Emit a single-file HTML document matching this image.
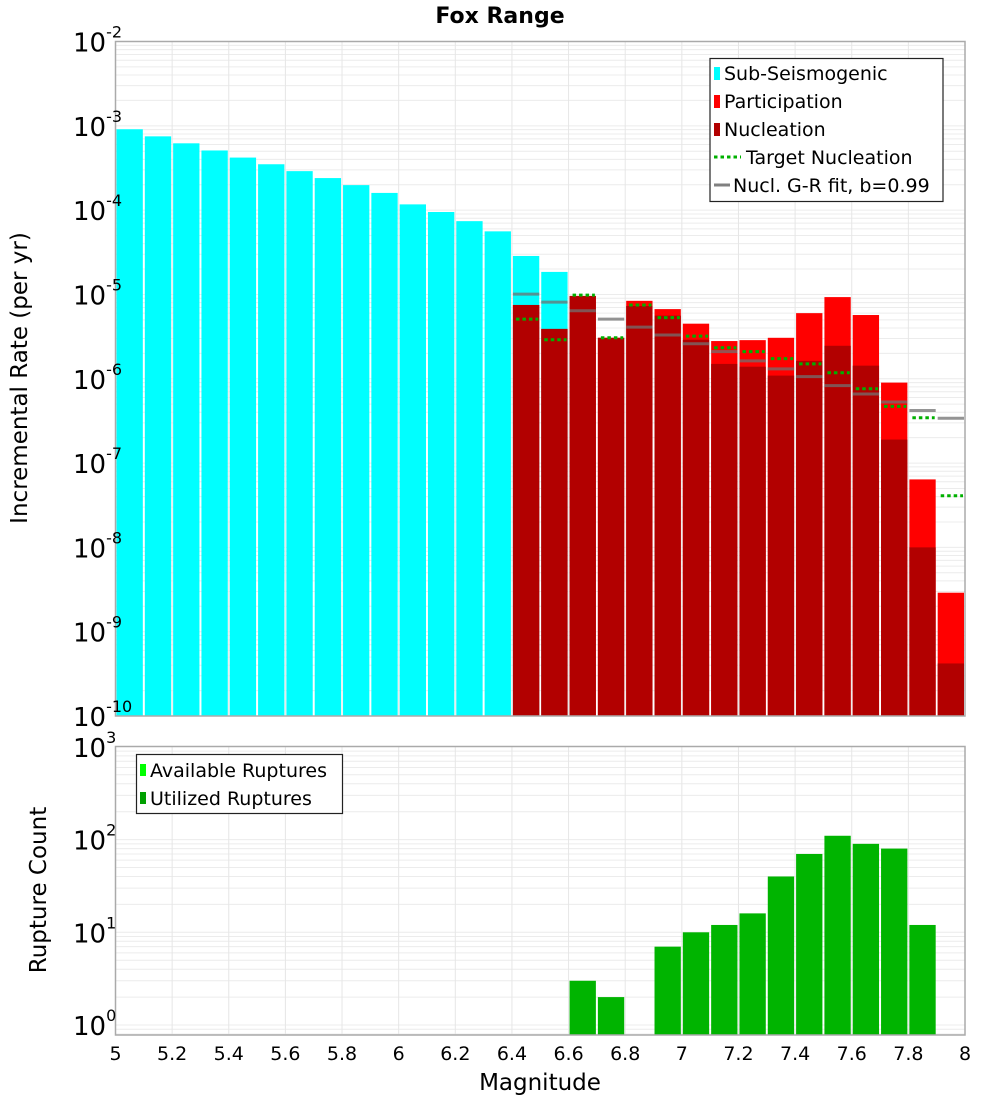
<!DOCTYPE html>
<html><head><meta charset="utf-8"><style>
body{margin:0;background:#fff;}
svg{display:block;font-family:"Liberation Sans","DejaVu Sans",sans-serif;}
</style></head><body>
<svg id="chart" width="1000" height="1100" viewBox="0 0 1000 1100" xmlns="http://www.w3.org/2000/svg">
<text x="500" y="23" text-anchor="middle" font-size="22" font-weight="bold" font-family="DejaVu Sans, sans-serif">Fox Range</text>
<g id="top-panel"></g>
<g id="bot-panel"></g>
<text transform="translate(27,378) rotate(-90)" text-anchor="middle" font-size="23" font-family="DejaVu Sans, sans-serif">Incremental Rate (per yr)</text>
<text transform="translate(46,890) rotate(-90)" text-anchor="middle" font-size="23" font-family="DejaVu Sans, sans-serif">Rupture Count</text>
<text x="540" y="1090" text-anchor="middle" font-size="23" font-family="DejaVu Sans, sans-serif">Magnitude</text>
</svg>
<script>
const subMags=[5.0,5.1,5.2,5.3,5.4,5.5,5.6,5.7,5.8,5.9,6.0,6.1,6.2,6.3,6.4,6.5];
const subRates=[9.1e-4,7.5e-4,6.2e-4,5.1e-4,4.2e-4,3.5e-4,2.9e-4,2.4e-4,1.98e-4,1.6e-4,1.17e-4,9.5e-5,7.4e-5,5.6e-5,2.86e-5,1.85e-5];
const supMags=[6.4,6.5,6.6,6.7,6.8,6.9,7.0,7.1,7.2,7.3,7.4,7.5,7.6,7.7,7.8,7.9];
const partRates=[7.5e-6,3.9e-6,9.6e-6,3.06e-6,8.4e-6,6.7e-6,4.5e-6,2.8e-6,2.87e-6,3.06e-6,6.0e-6,9.3e-6,5.7e-6,9.0e-7,6.4e-8,2.9e-9];
const nuclRates=[7.5e-6,3.9e-6,9.6e-6,3.06e-6,7.3e-6,5.6e-6,2.9e-6,1.5e-6,1.39e-6,1.09e-6,1.63e-6,2.46e-6,1.43e-6,1.9e-7,1.0e-8,4.2e-10];
const targetRates=[5.1e-6,2.9e-6,9.8e-6,3.06e-6,7.5e-6,5.3e-6,3.2e-6,2.33e-6,2.1e-6,1.73e-6,1.5e-6,1.18e-6,7.6e-7,4.7e-7,3.45e-7,4.1e-8];
const grRates=[1.01e-5,8.1e-6,6.4e-6,5.1e-6,4.1e-6,3.3e-6,2.6e-6,2.1e-6,1.63e-6,1.31e-6,1.06e-6,8.3e-7,6.6e-7,5.3e-7,4.2e-7,3.4e-7];
const cntMags=[6.6,6.7,6.9,7.0,7.1,7.2,7.3,7.4,7.5,7.6,7.7,7.8];
const cntValues=[3,2,7,10,12,16,40,70,110,90,80,12];
const xTicks=[5,5.2,5.4,5.6,5.8,6,6.2,6.4,6.6,6.8,7,7.2,7.4,7.6,7.8,8];
const xTickLabels=["5","5.2","5.4","5.6","5.8","6","6.2","6.4","6.6","6.8","7","7.2","7.4","7.6","7.8","8"];
const topExps=[-2,-3,-4,-5,-6,-7,-8,-9,-10];
const botExps=[3,2,1,0];

const NS="http://www.w3.org/2000/svg";
const L=115.5,R=965,BW=0.1;
const X=m=>L+(m-5)/3*(R-L);
const T0=41.5,T1=716,B0=746.5,B1=1035;
const YT=v=>T0+(-2-Math.log10(v))*((T1-T0)/8);
const YB=v=>1025+(0-Math.log10(v))*92.7;
function mk(p,t,a){const e=document.createElementNS(NS,t);for(const k in a)e.setAttribute(k,a[k]);p.appendChild(e);return e;}
const gTop=document.getElementById('top-panel'),gBot=document.getElementById('bot-panel');

function grid(g,y0,y1,lo,hi,Y){
  mk(g,'rect',{x:L,y:y0,width:R-L,height:y1-y0,fill:'#fff'});
  for(let e=lo;e<hi;e++)for(let k=1;k<10;k++){const y=Y(k*Math.pow(10,e));if(y>=y0&&y<=y1){const ln=mk(g,'line',{x1:L,x2:R,y1:y,y2:y,stroke:'#ececec','stroke-width':1});
    
    }}
  xTicks.forEach(t=>{const ln=mk(g,'line',{x1:X(t),x2:X(t),y1:y0,y2:y1,stroke:'#e6e6e6','stroke-width':1});
    
    });
}
grid(gTop,T0,T1,-10,-2,YT);
grid(gBot,B0,B1,-1,3,YB);

function bar(g,m,v,Y,y1,col,name){
  const x=X(m)+1,w=X(m+BW)-X(m)-2,y=Math.max(Y(v),0);
  const r=mk(g,'rect',{x:x,y:y,width:w,height:Math.max(0,y1-y),fill:col});
  
  
}
subMags.forEach((m,i)=>bar(gTop,m,subRates[i],YT,T1,'#00ffff','sub-seismogenic-bar'));
supMags.forEach((m,i)=>bar(gTop,m,partRates[i],YT,T1,'#ff0000','participation-bar'));
supMags.forEach((m,i)=>bar(gTop,m,nuclRates[i],YT,T1,'#b20000','nucleation-bar'));
supMags.forEach((m,i)=>{const y=YT(grRates[i]);const ln=mk(gTop,'line',{x1:X(m)+1,x2:X(m+BW)-1,y1:y,y2:y,stroke:'#707070','stroke-opacity':0.75,'stroke-width':3});
  
  });
supMags.forEach((m,i)=>{const y=YT(targetRates[i]);const ln=mk(gTop,'line',{x1:X(m)+4,x2:X(m+BW)-2,y1:y,y2:y,stroke:'#00b000','stroke-width':3,'stroke-dasharray':'3.5 3'});
  
  });
cntMags.forEach((m,i)=>bar(gBot,m,cntValues[i],YB,B1,'#00b400','utilized-ruptures-bar'));

[[gTop,T0,T1],[gBot,B0,B1]].forEach(([g,a,b])=>mk(g,'rect',{x:L,y:a,width:R-L,height:b-a,fill:'none',stroke:'#aaa','stroke-width':1.5}));

function ylab(g,e,y,name){
  const t=mk(g,'text',{x:73,y:y+10,'text-anchor':'start','font-size':26,'font-family':'DejaVu Sans, sans-serif'});
  
  
  t.textContent='10';
  const s=document.createElementNS(NS,'tspan');s.setAttribute('dy','-14');s.setAttribute('font-size','16');s.textContent=String(e);t.appendChild(s);
}
topExps.forEach(e=>ylab(gTop,e,YT(Math.pow(10,e)),'y-tick-label-rate'));
botExps.forEach(e=>ylab(gBot,e,YB(Math.pow(10,e)),'y-tick-label-count'));
xTicks.forEach((t,i)=>{const tx=mk(gBot,'text',{x:X(t),y:1060,'text-anchor':'middle','font-size':19,'font-family':'DejaVu Sans, sans-serif'});
  
  
  tx.textContent=xTickLabels[i];});

const lg=mk(gTop,'g',{});


mk(lg,'rect',{x:710,y:58.5,width:233,height:143,fill:'#fff',stroke:'#222','stroke-width':1.2});
const items=[['Sub-Seismogenic','sw','#00ffff'],['Participation','sw','#ff0000'],['Nucleation','sw','#b20000'],['Target Nucleation','dot','#00b000'],['Nucl. G-R fit, b=0.99','line','#808080']];
items.forEach((it,i)=>{const y=73+i*28;
  if(it[1]==='sw')mk(lg,'rect',{x:714,y:y-6,width:6,height:13,fill:it[2]});
  else if(it[1]==='dot')mk(lg,'line',{x1:714,x2:741,y1:y,y2:y,stroke:it[2],'stroke-width':3,'stroke-dasharray':'3.5 3'});
  else mk(lg,'line',{x1:714,x2:730,y1:y,y2:y,stroke:it[2],'stroke-width':3});
  const tx=mk(lg,'text',{x:it[1]==='sw'?724:(it[1]==='dot'?746:733),y:y+7,'font-size':19,'font-family':'DejaVu Sans, sans-serif'});
  
  
  tx.textContent=it[0];});
const lb=mk(gBot,'g',{});


mk(lb,'rect',{x:136.5,y:754.5,width:206,height:59,fill:'#fff',stroke:'#222','stroke-width':1.2});
[['Available Ruptures','#00ff00'],['Utilized Ruptures','#00a000']].forEach((it,i)=>{const y=770+i*28;
  mk(lb,'rect',{x:140,y:y-6,width:6,height:12,fill:it[1]});
  const tx=mk(lb,'text',{x:150,y:y+7,'font-size':19,'font-family':'DejaVu Sans, sans-serif'});
  
  
  tx.textContent=it[0];});
</script>
</body></html>
